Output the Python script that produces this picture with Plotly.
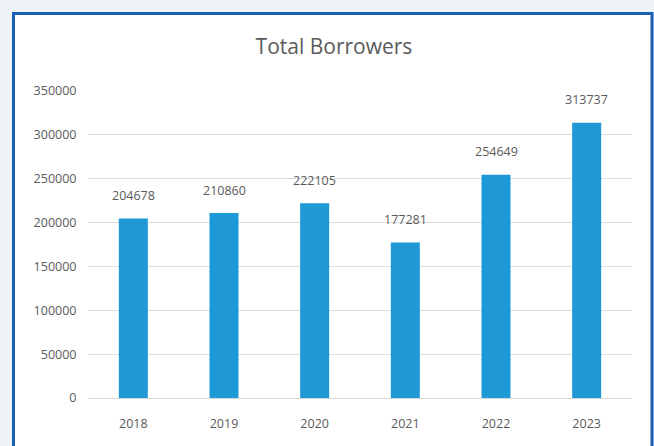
import plotly.graph_objects as go

# Total borrowers per year
years = ["2018", "2019", "2020", "2021", "2022", "2023"]
borrowers = [204678, 210860, 222105, 177281, 254649, 313737]
y_ticks = [0, 50000, 100000, 150000, 200000, 250000, 300000, 350000]

W, H = 654, 446
M_L, M_R, M_T, M_B = 88, 22, 91, 48
plot_w = W - M_L - M_R
plot_h = H - M_T - M_B

def px_x(px):
    return (px - M_L) / plot_w

def px_y(py):
    return (H - M_B - py) / plot_h

BAR_COLOR = "#1f98d6"
TEXT_COLOR = "#5a5a5a"
FONT = "Open Sans"

fig = go.Figure(
    go.Bar(
        x=years,
        y=borrowers,
        marker=dict(color=BAR_COLOR, line=dict(width=0)),
        hoverinfo="x+y",
    )
)

# value labels above each bar (positioned by category index on the axis)
for i, v in enumerate(borrowers):
    fig.add_annotation(
        x=i, y=v, xref="x", yref="y", text=str(v), showarrow=False,
        yshift=23, font=dict(family=FONT, size=12.5, color=TEXT_COLOR),
    )

# white card with a blue frame behind the chart
fig.add_shape(
    type="rect", xref="paper", yref="paper", layer="below",
    x0=px_x(13.5), x1=px_x(652), y0=px_y(452), y1=px_y(13.5),
    fillcolor="white", line=dict(color="#1b5fb4", width=3),
)

fig.update_layout(
    width=W, height=H,
    margin=dict(l=M_L, r=M_R, t=M_T, b=M_B),
    paper_bgcolor="#edf3f7",
    plot_bgcolor="rgba(0,0,0,0)",
    bargap=0.68,
    showlegend=False,
    title=dict(
        text="Total Borrowers", xref="container", yref="container",
        x=334 / W, y=1 - 47 / H, xanchor="center", yanchor="middle",
        font=dict(family=FONT, size=21, color=TEXT_COLOR),
    ),
    xaxis=dict(
        type="category", range=[-0.5, len(years) - 0.5], autorange=False,
        showgrid=False, showline=True,
        linecolor="#d9d9d9", linewidth=1,
        ticks="outside", ticklen=14, tickcolor="rgba(0,0,0,0)",
        tickfont=dict(family=FONT, size=12.5, color=TEXT_COLOR),
        zeroline=False,
    ),
    yaxis=dict(
        range=[0, 350000], autorange=False, tickvals=y_ticks,
        ticktext=[str(t) for t in y_ticks],
        showgrid=True, gridcolor="#dcdcdc", gridwidth=1,
        zeroline=False, showline=False,
        ticks="outside", ticklen=8, tickcolor="rgba(0,0,0,0)",
        tickfont=dict(family=FONT, size=12.5, color=TEXT_COLOR),
    ),
)

fig.write_html("out.html")
